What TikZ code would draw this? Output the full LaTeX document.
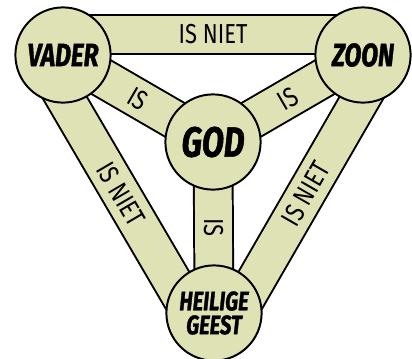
\documentclass[tikz,border=0pt]{standalone}
\usepackage{fontspec}
\newfontfamily\namefont[FakeStretch=0.76, FakeBold=1.2]{Fira Sans}
\newfontfamily\barfont[FakeStretch=0.8]{Fira Sans}
\usetikzlibrary{calc,backgrounds}
\definecolor{ShieldFill}{HTML}{DFE2B5}
\tikzset{
  Person/.style={
    circle, draw=black, line width=1.4pt, fill=ShieldFill,
    minimum size=2.38cm, inner sep=0pt, align=center,
    font=\namefont\bfseries\itshape\fontsize{23}{24}\selectfont
  },
  Bar/.style={
    draw=black, line width=1.4pt,
    double=ShieldFill, double distance=0.92cm
  },
  BarText/.style={
    inner sep=0pt, text=black,
    font=\barfont\fontsize{19.5}{20}\selectfont
  }
}

\begin{document}
\begin{tikzpicture}[x=0.025cm,y=-0.025cm]
    \path[use as bounding box] (0,0) rectangle (412,358);

    % the four circles
    \node[Person] (vader) at (63,55) {VADER};
    \node[Person] (zoon)  at (363,55) {ZOON};
    \node[Person, font=\namefont\bfseries\itshape\fontsize{30}{32}\selectfont] (god) at (213,142) {GOD};
    \node[Person, font=\namefont\bfseries\itshape\fontsize{19}{17}\selectfont] (geest) at (214,313) {HEILIGE\\GEEST};

    \begin{scope}[on background layer]
        % outer bars
        \draw[Bar] ([yshift=0.52cm]vader.center) -- node[BarText]{IS NIET} ([yshift=0.52cm]zoon.center);
        \draw[Bar] ($(vader.center)!0.5cm!-90:(geest.center)$) -- node[BarText, sloped]{IS NIET} ($(geest.center)!0.5cm!90:(vader.center)$);
        \draw[Bar] ($(geest.center)!0.5cm!-90:(zoon.center)$) -- node[BarText, sloped]{IS NIET} ($(zoon.center)!0.5cm!90:(geest.center)$);
        % inner bars
        \draw[Bar] (vader.center) -- node[BarText, sloped]{IS} (god.center);
        \draw[Bar] (god.center) -- node[BarText, sloped]{IS} (zoon.center);
        \draw[Bar] (god.center) -- node[BarText, rotate=-90]{IS} (geest.center);
    \end{scope}
\end{tikzpicture}
\end{document}
